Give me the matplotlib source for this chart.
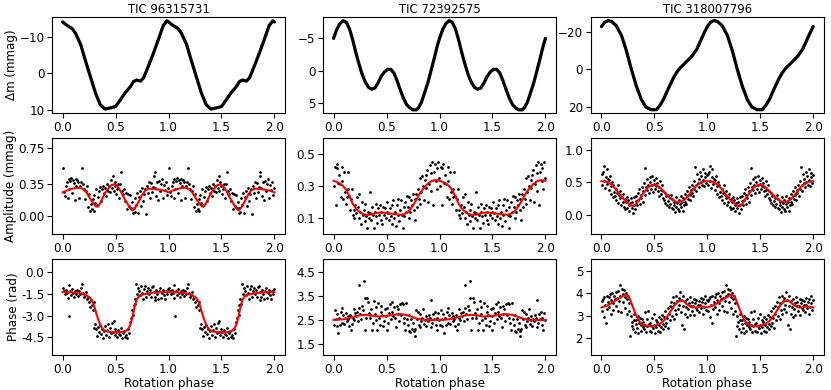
import matplotlib
matplotlib.use("Agg")
import matplotlib.pyplot as plt
import numpy as np

titles = ["TIC 96315731", "TIC 72392575", "TIC 318007796"]

# ---- light curves, one rotation cycle (phase, delta mag in mmag) ----
lc1_p = [0.00, 0.04, 0.09, 0.12, 0.17, 0.21, 0.26, 0.31, 0.355, 0.40, 0.45, 0.50,
         0.54, 0.59, 0.64, 0.67, 0.70, 0.735, 0.765, 0.81, 0.86, 0.905, 0.95, 0.985]
lc1_m = [-14.0, -13.1, -12.2, -11.0, -7.9, -4.0, 0.7, 5.3, 8.5, 9.7, 9.4, 9.0,
         7.4, 5.3, 3.6, 2.2, 1.8, 2.1, 1.2, -2.0, -5.7, -9.3, -13.0, -14.3]

lc2_p = [0.00, 0.03, 0.06, 0.09, 0.12, 0.15, 0.18, 0.21, 0.24, 0.27, 0.30, 0.33,
         0.36, 0.39, 0.42, 0.45, 0.48, 0.51, 0.54, 0.57, 0.60, 0.63, 0.66, 0.69,
         0.72, 0.75, 0.78, 0.80, 0.83, 0.86, 0.89, 0.92, 0.95, 0.98]
lc2_m = [-5.0, -6.4, -7.3, -7.75, -7.5, -6.5, -4.8, -2.8, -1.0, 0.6, 1.8, 2.6,
         2.9, 2.7, 1.9, 0.9, 0.2, -0.2, -0.2, 0.4, 1.6, 3.0, 4.3, 5.3,
         5.8, 6.1, 6.1, 5.8, 4.9, 3.4, 1.9, 0.0, -1.9, -3.9]

lc3_p = [0.00, 0.03, 0.065, 0.095, 0.14, 0.19, 0.236, 0.283, 0.33, 0.377, 0.42,
         0.47, 0.52, 0.556, 0.59, 0.62, 0.65, 0.68, 0.71, 0.745, 0.78, 0.81,
         0.855, 0.90, 0.935, 0.965]
lc3_m = [-22.7, -25.0, -25.9, -25.4, -23.2, -17.9, -9.8, 0.0, 8.9, 16.0, 20.0,
         21.4, 21.4, 18.8, 15.5, 11.6, 8.0, 4.5, 1.6, -0.9, -2.8, -4.5,
         -7.1, -10.7, -15.0, -18.8]

# ---- measured amplitude / phase, one cycle ----
s1_p = [0.005, 0.013, 0.022, 0.030, 0.038, 0.047, 0.056, 0.062, 0.071, 0.080,
        0.088, 0.097, 0.105, 0.114, 0.122, 0.131, 0.139, 0.148, 0.157, 0.166,
        0.175, 0.184, 0.193, 0.202, 0.211, 0.220, 0.229, 0.238, 0.247, 0.256,
        0.265, 0.274, 0.283, 0.292, 0.301, 0.310, 0.319, 0.328, 0.337, 0.346,
        0.355, 0.364, 0.373, 0.382, 0.391, 0.400, 0.409, 0.418, 0.427, 0.436,
        0.445, 0.454, 0.463, 0.472, 0.481, 0.490, 0.499, 0.508, 0.517, 0.526,
        0.535, 0.544, 0.553, 0.562, 0.571, 0.580, 0.589, 0.598, 0.607, 0.616,
        0.625, 0.634, 0.643, 0.652, 0.661, 0.670, 0.679, 0.688, 0.697, 0.706,
        0.715, 0.724, 0.733, 0.742, 0.751, 0.760, 0.769, 0.778, 0.787, 0.796,
        0.805, 0.814, 0.823, 0.832, 0.841, 0.850, 0.859, 0.868, 0.877, 0.886,
        0.895, 0.904, 0.913, 0.922, 0.931, 0.940, 0.949, 0.958, 0.967, 0.976,
        0.985, 0.994]
s1_amp = [0.53, 0.26, 0.22, 0.33, 0.38, 0.20, 0.41, 0.30, 0.39, 0.42,
          0.25, 0.40, 0.36, 0.18, 0.41, 0.33, 0.40, 0.37, 0.20, 0.33,
          0.38, 0.53, 0.35, 0.30, 0.19, 0.27, 0.33, 0.10, 0.24, 0.05,
          0.13, 0.08, 0.19, 0.05, 0.23, 0.14, 0.30, 0.12, 0.21, 0.27,
          0.32, 0.17, 0.30, 0.33, 0.25, 0.31, 0.22, 0.35, 0.28, 0.33,
          0.26, 0.40, 0.31, 0.44, 0.28, 0.38, 0.33, 0.24, 0.30, 0.35,
          0.20, 0.35, 0.48, 0.28, 0.24, 0.30, 0.17, 0.25, 0.08, 0.24,
          0.11, 0.23, 0.09, 0.15, 0.03, 0.09, 0.04, 0.20, 0.12, 0.25,
          0.03, 0.21, 0.27, 0.11, 0.31, 0.17, 0.24, 0.30, 0.02, 0.33,
          0.25, 0.38, 0.20, 0.36, 0.26, 0.32, 0.44, 0.49, 0.31, 0.22,
          0.37, 0.18, 0.39, 0.28, 0.35, 0.41, 0.20, 0.34, 0.29, 0.37,
          0.23, 0.31]
s1_ph = [-1.10, -1.35, -1.55, -1.25, -1.45, -1.80, -0.90, -3.00, -1.30, -1.60,
         -1.20, -1.45, -1.70, -1.30, -1.40, -1.55, -1.25, -1.65, -1.35, -1.50,
         -1.10, -0.85, -1.45, -1.75, -1.60, -1.40, -1.90, -1.70, -2.10, -2.45,
         -1.95, -2.30, -2.60, -2.05, -3.85, -3.55, -3.95, -4.40, -3.80, -4.15,
         -3.65, -4.25, -3.95, -4.55, -4.05, -3.75, -4.30, -4.00, -3.60, -4.45,
         -3.85, -4.20, -3.50, -4.10, -3.40, -4.35, -3.90, -4.15, -4.45, -4.00,
         -4.25, -4.35, -3.85, -4.55, -4.20, -4.05, -4.50, -4.30, -4.55, -3.90,
         -4.20, -3.45, -3.15, -2.60, -2.95, -2.25, -1.85, -2.20, -0.85, -1.55,
         -1.10, -1.30, -1.60, -1.00, -1.45, -1.85, -1.20, -0.95, -1.70, -1.35,
         -1.10, -1.50, -1.25, -1.75, -1.05, -0.95, -1.40, -1.95, -1.70, -1.25,
         -1.55, -1.85, -1.30, -1.10, -1.80, -1.45, -1.25, -1.60, -1.90, -1.35,
         -1.50, -1.20]

s2_p = [0.004, 0.012, 0.020, 0.028, 0.036, 0.044, 0.052, 0.060, 0.068, 0.076,
        0.084, 0.092, 0.100, 0.108, 0.116, 0.124, 0.132, 0.140, 0.148, 0.156,
        0.164, 0.172, 0.180, 0.188, 0.196, 0.204, 0.212, 0.220, 0.228, 0.236,
        0.244, 0.252, 0.260, 0.268, 0.276, 0.284, 0.292, 0.300, 0.308, 0.316,
        0.324, 0.332, 0.340, 0.348, 0.356, 0.364, 0.372, 0.380, 0.388, 0.396,
        0.404, 0.412, 0.420, 0.428, 0.436, 0.444, 0.452, 0.460, 0.468, 0.476,
        0.484, 0.492, 0.500, 0.508, 0.516, 0.524, 0.532, 0.540, 0.548, 0.556,
        0.564, 0.572, 0.580, 0.588, 0.596, 0.604, 0.612, 0.620, 0.628, 0.636,
        0.644, 0.652, 0.660, 0.668, 0.676, 0.684, 0.692, 0.700, 0.708, 0.716,
        0.724, 0.732, 0.740, 0.748, 0.756, 0.764, 0.772, 0.780, 0.788, 0.796,
        0.804, 0.812, 0.820, 0.828, 0.836, 0.844, 0.852, 0.860, 0.868, 0.876,
        0.884, 0.892, 0.900, 0.908, 0.916, 0.924, 0.932, 0.940, 0.948, 0.956,
        0.964, 0.972, 0.980, 0.988, 0.996]
s2_amp = [0.30, 0.42, 0.18, 0.41, 0.44, 0.32, 0.37, 0.31, 0.23, 0.33,
          0.42, 0.22, 0.39, 0.26, 0.19, 0.23, 0.28, 0.39, 0.24, 0.15,
          0.22, 0.28, 0.12, 0.15, 0.10, 0.18, 0.13, 0.23, 0.17, 0.10,
          0.25, 0.14, 0.06, 0.20, 0.12, 0.15, 0.08, 0.19, 0.11, 0.04,
          0.14, 0.10, 0.26, 0.13, 0.09, 0.17, 0.12, 0.04, 0.14, 0.19,
          0.11, 0.07, 0.16, 0.12, 0.18, 0.09, 0.14, 0.06, 0.17, 0.12,
          0.16, 0.10, 0.14, 0.20, 0.13, 0.09, 0.16, 0.11, 0.06, 0.18,
          0.21, 0.10, 0.14, 0.05, 0.18, 0.12, 0.22, 0.08, 0.15, 0.21,
          0.12, 0.04, 0.17, 0.11, 0.20, 0.14, 0.24, 0.17, 0.10, 0.23,
          0.14, 0.21, 0.18, 0.25, 0.15, 0.22, 0.09, 0.25, 0.17, 0.28,
          0.22, 0.35, 0.19, 0.26, 0.36, 0.30, 0.21, 0.34, 0.29, 0.37,
          0.40, 0.20, 0.31, 0.43, 0.38, 0.27, 0.45, 0.18, 0.39, 0.44,
          0.33, 0.41, 0.28, 0.45, 0.35]
s2_ph = [2.30, 2.90, 2.55, 2.25, 2.75, 1.95, 2.60, 2.30, 2.85, 3.00,
         2.40, 2.70, 2.35, 2.60, 2.80, 2.45, 2.65, 2.55, 2.25, 2.70,
         2.10, 2.35, 2.60, 2.95, 2.50, 2.80, 2.65, 2.85, 2.45, 3.00,
         3.95, 2.75, 2.55, 3.10, 2.90, 4.12, 3.40, 2.10, 2.60, 3.40,
         3.25, 2.80, 2.70, 2.60, 2.95, 2.10, 2.40, 3.30, 2.75, 3.05,
         2.50, 2.10, 3.20, 2.60, 2.30, 2.85, 3.10, 2.70, 2.25, 2.45,
         2.95, 2.65, 2.10, 3.00, 2.40, 2.80, 3.15, 2.55, 2.85, 3.25,
         2.65, 3.05, 2.60, 2.20, 3.10, 2.75, 2.95, 2.45, 3.15, 2.70,
         3.20, 3.15, 2.60, 2.40, 2.10, 3.20, 2.55, 2.30, 2.05, 2.70,
         2.00, 2.55, 2.15, 2.40, 2.05, 1.85, 2.15, 2.90, 2.55, 2.85,
         2.30, 2.75, 2.20, 2.45, 2.60, 2.95, 2.35, 2.50, 2.65, 2.25,
         2.55, 2.45, 2.70, 2.60, 2.20, 3.35, 2.40, 2.75, 2.55, 2.85,
         2.30, 2.60, 2.10, 2.80, 2.50]

s3_p = [0.002, 0.009, 0.015, 0.022, 0.028, 0.035, 0.041, 0.048, 0.054, 0.061,
        0.068, 0.074, 0.081, 0.087, 0.094, 0.100, 0.107, 0.113, 0.120, 0.127,
        0.134, 0.140, 0.147, 0.153, 0.160, 0.166, 0.173, 0.179, 0.186, 0.193,
        0.199, 0.206, 0.212, 0.219, 0.225, 0.232, 0.238, 0.245, 0.251, 0.258,
        0.265, 0.271, 0.278, 0.284, 0.291, 0.297, 0.304, 0.310, 0.317, 0.323,
        0.330, 0.336, 0.343, 0.349, 0.356, 0.362, 0.369, 0.375, 0.382, 0.389,
        0.395, 0.402, 0.408, 0.415, 0.421, 0.428, 0.434, 0.441, 0.447, 0.454,
        0.461, 0.467, 0.474, 0.480, 0.487, 0.493, 0.500, 0.506, 0.513, 0.519,
        0.526, 0.532, 0.539, 0.545, 0.552, 0.558, 0.565, 0.571, 0.578, 0.585,
        0.591, 0.598, 0.604, 0.611, 0.617, 0.624, 0.630, 0.637, 0.643, 0.650,
        0.656, 0.663, 0.669, 0.676, 0.682, 0.689, 0.695, 0.702, 0.708, 0.715,
        0.721, 0.728, 0.734, 0.741, 0.747, 0.754, 0.760, 0.767, 0.773, 0.780,
        0.786, 0.793, 0.799, 0.806, 0.812, 0.819, 0.825, 0.832, 0.838, 0.845,
        0.851, 0.858, 0.864, 0.871, 0.877, 0.884, 0.890, 0.897, 0.903, 0.910,
        0.917, 0.923, 0.930, 0.936, 0.943, 0.949, 0.956, 0.962, 0.969, 0.975,
        0.982, 0.988, 0.995]
s3_amp = [0.62, 0.45, 0.66, 0.52, 0.75, 0.41, 0.58, 0.70, 0.47, 0.55,
          0.53, 0.38, 0.60, 0.44, 0.32, 0.50, 0.27, 0.46, 0.35, 0.29,
          0.40, 0.22, 0.33, 0.45, 0.18, 0.30, 0.25, 0.36, 0.15, 0.27,
          0.20, 0.31, 0.12, 0.24, 0.08, 0.19, 0.27, 0.10, 0.22, 0.14,
          0.05, 0.18, 0.26, 0.10, 0.20, 0.03, 0.15, 0.27, 0.08, 0.21,
          0.28, 0.14, 0.33, 0.22, 0.40, 0.17, 0.30, 0.25, 0.43, 0.20,
          0.36, 0.48, 0.30, 0.72, 0.42, 0.55, 0.38, 0.46, 0.33, 0.58,
          0.50, 0.40, 0.60, 0.45, 0.35, 0.53, 0.47, 0.39, 0.56, 0.44,
          0.48, 0.36, 0.43, 0.29, 0.52, 0.38, 0.31, 0.45, 0.25, 0.37,
          0.22, 0.34, 0.18, 0.28, 0.14, 0.30, 0.21, 0.12, 0.26, 0.17,
          0.30, 0.10, 0.24, 0.08, 0.20, 0.15, 0.04, 0.27, 0.12, 0.18,
          0.09, 0.22, 0.05, 0.16, 0.28, 0.12, 0.19, 0.06, 0.25, 0.14,
          0.20, 0.31, 0.17, 0.28, 0.36, 0.24, 0.42, 0.30, 0.22, 0.38,
          0.33, 0.46, 0.28, 0.52, 0.40, 0.74, 0.45, 0.36, 0.62, 0.49,
          0.55, 0.42, 0.66, 0.50, 0.60, 0.46, 0.70, 0.53, 0.44, 0.64,
          0.58, 0.49, 0.61]
s3_ph = [3.65, 3.20, 3.75, 2.95, 3.85, 3.50, 2.70, 3.90, 3.30, 3.60,
         3.85, 3.40, 3.95, 3.10, 3.70, 4.00, 3.55, 3.25, 3.90, 3.75,
         3.45, 4.05, 3.80, 3.20, 4.10, 3.65, 4.35, 3.90, 3.15, 4.20,
         3.95, 3.60, 4.15, 3.85, 3.35, 4.00, 3.75, 3.10, 3.90, 3.55,
         3.20, 2.10, 3.00, 2.55, 2.75, 2.40, 3.10, 2.80, 2.30, 2.65,
         2.80, 2.45, 3.00, 2.25, 2.70, 2.90, 2.35, 2.60, 2.85, 2.50,
         2.75, 2.40, 3.15, 2.60, 2.30, 2.85, 2.55, 3.20, 2.65, 2.35,
         2.70, 2.30, 2.90, 2.55, 2.45, 3.10, 2.60, 2.25, 2.80, 2.50,
         2.75, 2.35, 2.95, 2.60, 2.30, 2.85, 2.50, 3.05, 2.65, 2.40,
         2.95, 2.55, 3.20, 2.70, 2.90, 3.35, 2.45, 3.10, 3.45, 2.80,
         3.60, 3.00, 3.40, 3.85, 2.85, 3.55, 3.25, 3.90, 3.10, 3.65,
         3.30, 3.80, 3.50, 4.05, 3.15, 3.70, 2.60, 3.45, 3.90, 2.40,
         3.10, 3.65, 3.40, 2.95, 3.75, 3.30, 3.55, 3.05, 3.85, 3.45,
         3.60, 3.20, 3.45, 3.75, 3.05, 3.55, 3.35, 3.70, 3.25, 3.50,
         3.65, 3.15, 3.50, 3.80, 3.35, 3.60, 3.10, 3.75, 3.40, 3.55,
         3.90, 3.25, 3.70]

# ---- fitted model curves, one cycle ----
f1a_p = [0.00, 0.05, 0.09, 0.13, 0.17, 0.20, 0.23, 0.26, 0.29, 0.31, 0.33, 0.35,
         0.37, 0.40, 0.43, 0.46, 0.49, 0.515, 0.54, 0.575, 0.61, 0.635, 0.66,
         0.685, 0.72, 0.75, 0.78, 0.81, 0.84, 0.875, 0.91, 0.95, 0.98]
f1a_v = [0.26, 0.285, 0.30, 0.31, 0.31, 0.29, 0.25, 0.19, 0.14, 0.11, 0.10, 0.13,
         0.18, 0.25, 0.30, 0.34, 0.35, 0.33, 0.29, 0.21, 0.14, 0.09, 0.06,
         0.09, 0.16, 0.23, 0.28, 0.30, 0.30, 0.295, 0.29, 0.28, 0.27]
f1p_p = [0.00, 0.07, 0.13, 0.18, 0.23, 0.26, 0.28, 0.30, 0.32, 0.34, 0.36, 0.38,
         0.40, 0.44, 0.48, 0.53, 0.57, 0.60, 0.62, 0.64, 0.655, 0.67, 0.685,
         0.70, 0.72, 0.75, 0.80, 0.85, 0.92]
f1p_v = [-1.40, -1.41, -1.43, -1.50, -1.64, -1.80, -2.00, -2.40, -2.90, -3.35,
         -3.70, -3.92, -4.05, -4.12, -4.15, -4.15, -4.12, -4.05, -3.90, -3.65,
         -3.25, -2.75, -2.25, -1.90, -1.70, -1.58, -1.50, -1.44, -1.41]

f2a_p = [0.00, 0.05, 0.09, 0.12, 0.15, 0.18, 0.21, 0.24, 0.27, 0.30, 0.34, 0.37,
         0.41, 0.45, 0.51, 0.57, 0.64, 0.67, 0.70, 0.73, 0.76, 0.79, 0.82,
         0.855, 0.89, 0.92, 0.95, 0.975]
f2a_v = [0.333, 0.32, 0.30, 0.275, 0.235, 0.19, 0.16, 0.14, 0.127, 0.12, 0.12,
         0.125, 0.132, 0.135, 0.13, 0.125, 0.12, 0.125, 0.135, 0.16, 0.19,
         0.225, 0.26, 0.29, 0.315, 0.33, 0.336, 0.336]
f2p_p = [0.00, 0.05, 0.10, 0.15, 0.20, 0.25, 0.30, 0.35, 0.415, 0.46, 0.51,
         0.57, 0.62, 0.68, 0.72, 0.76, 0.81, 0.855, 0.90, 0.95]
f2p_v = [2.51, 2.52, 2.54, 2.59, 2.65, 2.70, 2.72, 2.70, 2.65, 2.66, 2.68,
         2.72, 2.75, 2.72, 2.67, 2.60, 2.54, 2.51, 2.50, 2.50]

f3a_p = [0.00, 0.03, 0.063, 0.095, 0.126, 0.16, 0.19, 0.22, 0.25, 0.275, 0.30,
         0.325, 0.346, 0.38, 0.41, 0.44, 0.47, 0.50, 0.525, 0.55, 0.58, 0.613,
         0.645, 0.676, 0.70, 0.72, 0.75, 0.786, 0.82, 0.85, 0.88, 0.91, 0.95,
         0.975]
f3a_v = [0.515, 0.51, 0.50, 0.46, 0.41, 0.34, 0.28, 0.22, 0.18, 0.14, 0.13,
         0.16, 0.205, 0.29, 0.36, 0.42, 0.45, 0.46, 0.445, 0.42, 0.37, 0.31,
         0.26, 0.23, 0.20, 0.19, 0.20, 0.23, 0.29, 0.36, 0.42, 0.46, 0.50,
         0.51]
f3p_p = [0.00, 0.063, 0.126, 0.19, 0.22, 0.236, 0.255, 0.273, 0.295, 0.314,
         0.335, 0.36, 0.39, 0.425, 0.46, 0.50, 0.54, 0.58, 0.62, 0.66, 0.69,
         0.72, 0.755, 0.78, 0.80, 0.83, 0.865, 0.90, 0.94, 0.97]
f3p_v = [3.37, 3.47, 3.66, 3.84, 3.92, 3.94, 3.87, 3.69, 3.42, 3.18,
         2.95, 2.74, 2.62, 2.56, 2.54, 2.55, 2.62, 2.74, 2.97, 3.25, 3.47,
         3.62, 3.69, 3.64, 3.54, 3.44, 3.37, 3.38, 3.42, 3.40]

# axis setup per column
lc_lims = [(10.8, -15.3), (6.6, -8.3), (23.2, -27.7)]
lc_ticks = [[-10, 0, 10], [-5, 0, 5], [-20, 0, 20]]
amp_lims = [(-0.2, 0.86), (0.0, 0.6), (-0.3, 1.18)]
amp_ticks = [[0.0, 0.35, 0.75], [0.1, 0.3, 0.5], [0.0, 0.5, 1.0]]
amp_fmt = ["%.2f", "%.1f", "%.1f"]
ph_lims = [(-5.7, 0.86), (1.06, 5.02), (1.27, 5.51)]
ph_ticks = [[0.0, -1.5, -3.0, -4.5], [1.5, 2.5, 3.5, 4.5], [2, 3, 4, 5]]
ph_fmt = ["%.1f", "%.1f", "%d"]

lcs = [(lc1_p, lc1_m), (lc2_p, lc2_m), (lc3_p, lc3_m)]
pts = [(s1_p, s1_amp, s1_ph), (s2_p, s2_amp, s2_ph), (s3_p, s3_amp, s3_ph)]
fits_a = [(f1a_p, f1a_v), (f2a_p, f2a_v), (f3a_p, f3a_v)]
fits_p = [(f1p_p, f1p_v), (f2p_p, f2p_v), (f3p_p, f3p_v)]


def two_cycles(p, v, close=False):
    p = np.asarray(p, float)
    v = np.asarray(v, float)
    x = np.concatenate([p, p + 1])
    y = np.concatenate([v, v])
    if close:
        x = np.append(x, 2.0)
        y = np.append(y, v[0])
    return x, y


plt.rcParams['font.size'] = 8.6
fig = plt.figure(figsize=(8.31, 3.9), dpi=100)

lefts = [0.0626, 0.3887, 0.711]
w = 0.2804
bottoms = [0.710, 0.400, 0.0897]
h = 0.2460

for j in range(3):
    ax1 = fig.add_axes([lefts[j], bottoms[0], w, h])
    ax2 = fig.add_axes([lefts[j], bottoms[1], w, h])
    ax3 = fig.add_axes([lefts[j], bottoms[2], w, h])

    x, y = two_cycles(*lcs[j], close=True)
    ax1.plot(x, y, color='black', lw=2.3, solid_capstyle='round')
    ax1.set_ylim(*lc_lims[j])
    ax1.set_yticks(lc_ticks[j])
    ax1.set_title(titles[j], fontsize=8.4, pad=3)

    p, a, ph = pts[j]
    xa, ya = two_cycles(p, a)
    xp, yp = two_cycles(p, ph)
    ax2.scatter(xa, ya, s=4, color='black', linewidths=0)
    x, y = two_cycles(*fits_a[j], close=True)
    ax2.plot(x, y, color='red', lw=1.5)
    ax2.set_ylim(*amp_lims[j])
    ax2.set_yticks(amp_ticks[j])
    ax2.yaxis.set_major_formatter(matplotlib.ticker.FormatStrFormatter(amp_fmt[j]))

    ax3.scatter(xp, yp, s=4, color='black', linewidths=0)
    x, y = two_cycles(*fits_p[j], close=True)
    ax3.plot(x, y, color='red', lw=1.5)
    ax3.set_ylim(*ph_lims[j])
    ax3.set_yticks(ph_ticks[j])
    ax3.yaxis.set_major_formatter(matplotlib.ticker.FormatStrFormatter(ph_fmt[j]))
    ax3.set_xlabel('Rotation phase', labelpad=1)

    for ax in (ax1, ax2, ax3):
        ax.set_xlim(-0.1, 2.1)
        ax.set_xticks([0.0, 0.5, 1.0, 1.5, 2.0])
        ax.tick_params(pad=2)

    if j == 0:
        ax1.set_ylabel('Δm (mmag)', labelpad=1)
        ax2.set_ylabel('Amplitude (mmag)', labelpad=1)
        ax3.set_ylabel('Phase (rad)', labelpad=1)

fig.savefig('out.png', dpi=100)
